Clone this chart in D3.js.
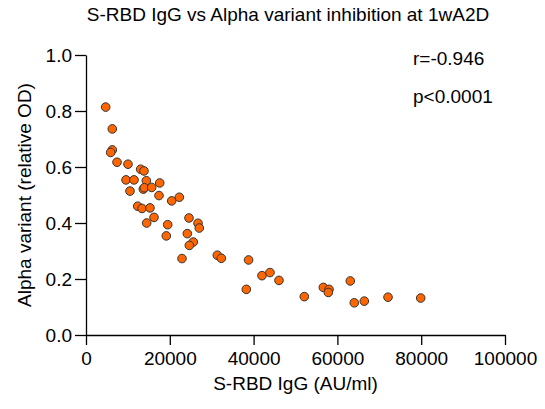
<!DOCTYPE html>
<html>
<head>
<meta charset="utf-8">
<script src="https://cdn.jsdelivr.net/npm/d3@7"></script>
<style>
  body { margin: 0; background: #fff; }
  svg { display: block; }
  text { font-family: "Liberation Sans", Arial, sans-serif; fill: #000; }
</style>
</head>
<body>
<svg id="chart" width="545" height="409"></svg>
<script>
// Data
const igg = [4700, 6280, 6280, 5890, 7400, 10020, 13050, 13840, 9550, 11460,
  14400, 17590, 10500, 13680, 13920, 15680, 17420, 20450, 22270, 12340,
  13370, 15270, 16230, 14480, 24580, 19500, 26730, 27040, 19170, 24180,
  25610, 24660, 22910, 31340, 32300, 38800, 42000, 43910, 46060, 38260,
  52100, 56640, 58000, 57830, 63080, 64030, 66420, 72080, 79880];
const alpha = [0.814, 0.736, 0.661, 0.652, 0.617, 0.610, 0.592, 0.586, 0.554, 0.554,
  0.551, 0.543, 0.514, 0.521, 0.526, 0.527, 0.498, 0.479, 0.492, 0.460,
  0.452, 0.454, 0.420, 0.400, 0.418, 0.394, 0.399, 0.382, 0.354, 0.362,
  0.332, 0.320, 0.273, 0.285, 0.274, 0.268, 0.212, 0.223, 0.195, 0.163,
  0.137, 0.170, 0.163, 0.152, 0.193, 0.115, 0.121, 0.135, 0.132];
const xTicks = [0, 20000, 40000, 60000, 80000, 100000];
const yTicks = [0.0, 0.2, 0.4, 0.6, 0.8, 1.0];
const title = "S-RBD IgG vs Alpha variant inhibition at 1wA2D";
const xTitle = "S-RBD IgG (AU/ml)";
const yTitle = "Alpha variant (relative OD)";
const stats = ["r=-0.946", "p<0.0001"];

const svg = d3.select("#chart");
const mLeft = 86, mRight = 505, mTop = 55, mBottom = 335;
const x = d3.scaleLinear().domain([0, 100000]).range([mLeft, mRight]);
const y = d3.scaleLinear().domain([0, 1]).range([mBottom, mTop]);
const fs = 19;

const xAxis = svg.append("g").attr("transform", `translate(0,${mBottom})`)
  .call(d3.axisBottom(x).tickValues(xTicks).tickFormat(d3.format("d")).tickSize(10).tickSizeOuter(0).tickPadding(7));
const yAxis = svg.append("g").attr("transform", `translate(${mLeft},0)`)
  .call(d3.axisLeft(y).tickValues(yTicks).tickFormat(d3.format(".1f")).tickSize(11).tickSizeOuter(0).tickPadding(3));
[xAxis, yAxis].forEach(g => {
  g.selectAll("path, line").attr("stroke", "#000").attr("stroke-width", 1.3);
  g.selectAll("text").attr("font-size", fs).attr("font-family", '"Liberation Sans", Arial, sans-serif').attr("fill", "#000");
});

svg.append("g").selectAll("circle")
  .data(igg.map((v, i) => [v, alpha[i]]))
  .join("circle")
  .attr("cx", d => x(d[0]))
  .attr("cy", d => y(d[1]))
  .attr("r", 4.3)
  .attr("fill", "#FF6600")
  .attr("stroke", "#333")
  .attr("stroke-width", 1);

svg.append("text").attr("x", 288).attr("y", 21).attr("text-anchor", "middle")
  .attr("font-size", fs).text(title);
svg.append("text").attr("x", (mLeft + mRight) / 2).attr("y", 390).attr("text-anchor", "middle")
  .attr("font-size", fs).text(xTitle);
svg.append("text").attr("transform", `translate(31,${(mTop + mBottom) / 2}) rotate(-90)`)
  .attr("text-anchor", "middle").attr("font-size", fs).text(yTitle);
svg.append("text").attr("x", 413).attr("y", 65).attr("font-size", fs).text(stats[0]);
svg.append("text").attr("x", 413).attr("y", 103).attr("font-size", fs).text(stats[1]);
</script>
</body>
</html>
